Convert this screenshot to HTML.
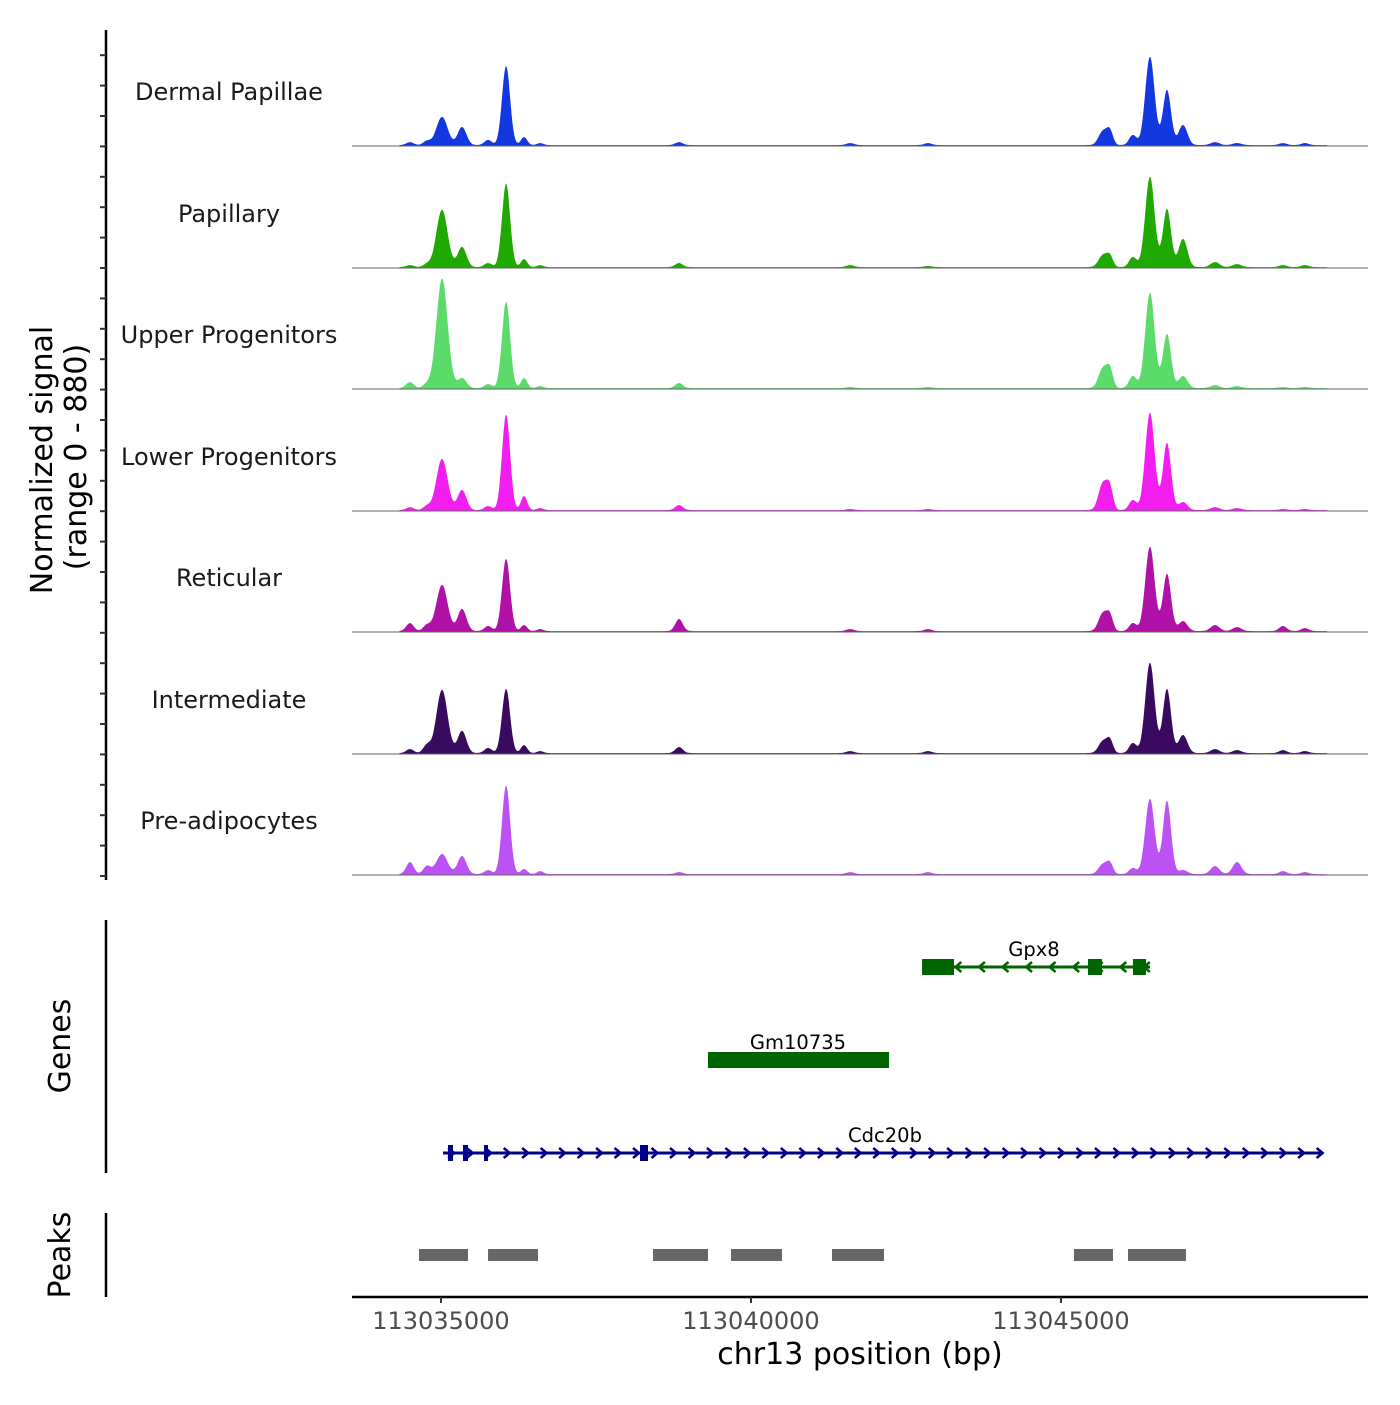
<!DOCTYPE html>
<html><head><meta charset="utf-8"><style>
body{margin:0;background:#fff;font-family:"Liberation Sans","DejaVu Sans",sans-serif}
svg text{font-family:"DejaVu Sans","Liberation Sans",sans-serif}
</style></head><body>
<svg id="chart" width="1400" height="1400" xmlns="http://www.w3.org/2000/svg"></svg>
<script>
const trackNames=["Dermal Papillae","Papillary","Upper Progenitors","Lower Progenitors","Reticular","Intermediate","Pre-adipocytes"];
const trackColors=["#1338df","#1eaa00","#5adb6a","#f21ef0","#b012a8","#3a0a60","#bd52f4"];
const peakPos=[113034500,113034775,113035017,113035340,113035760,113036050,113036340,113036600,113038840,113041600,113042855,113045678,113045790,113046160,113046435,113046710,113046968,113047485,113047840,113048580,113048935];
const peakWidth=[60,60,90,70,60,65,50,50,60,60,60,70,50,60,75,65,70,70,70,60,60];
const sigDP=[22,30,210,135,38,590,60,15,22,15,15,105,98,75,660,412,150,22,15,15,15];
const sigPap=[15,22,428,150,30,622,60,15,30,15,8,90,75,75,675,435,210,38,22,15,15];
const sigUP=[45,30,818,75,30,645,75,15,38,8,8,150,128,90,712,405,90,22,15,8,8];
const sigLP=[22,30,382,150,30,712,105,15,38,8,8,202,150,75,728,502,60,22,15,8,8];
const sigRet=[60,45,345,165,38,540,45,15,90,15,15,135,105,60,630,428,75,45,30,38,22];
const sigInt=[30,60,472,165,38,480,60,15,45,15,15,90,90,75,675,480,135,30,22,22,15];
const sigPre=[90,60,150,135,30,660,38,22,15,15,15,75,75,45,562,548,30,60,90,22,15];
const signals=[sigDP,sigPap,sigUP,sigLP,sigRet,sigInt,sigPre];
const xTicks=[113035000,113040000,113045000];
const peakStarts=[113034646,113035759,113038420,113039678,113041307,113045210,113046081];
const peakEnds=[113035436,113036565,113039307,113040500,113042146,113045839,113047016];

const NS="http://www.w3.org/2000/svg";
const svg=document.getElementById('chart');
function el(tag,attrs,parent){const e=document.createElementNS(NS,tag);for(const k in attrs)e.setAttribute(k,attrs[k]);(parent||svg).appendChild(e);return e;}
const X0=113033565, PX0=352, K=0.062;
const xs=bp=>PX0+(bp-X0)*K;
const baselines=[146,268,389,511,632,754,875];
const ys=(v,b)=>b-v/880*118;
const sigStart=113034330, sigEnd=113049300;

signals.forEach((s,ti)=>{
  const b=baselines[ti];
  let d="M"+xs(sigStart)+","+b;
  for(let bp=sigStart;bp<=sigEnd;bp+=16){
    let v=7;
    for(let i=0;i<peakPos.length;i++){const z=(bp-peakPos[i])/peakWidth[i];v+=s[i]*Math.exp(-0.5*z*z);}
    d+=" L"+xs(bp).toFixed(1)+","+ys(v,b).toFixed(1);
  }
  d+=" L"+xs(sigEnd)+","+b+" Z";
  const p=el('path',{d:d,fill:trackColors[ti]});
  
  
  const l=el('line',{x1:352,x2:1368,y1:b,y2:b,stroke:'#666','stroke-width':1});
  
  
  const t=el('text',{x:229,y:b-46,'text-anchor':'middle','font-size':24,fill:'#1a1a1a'});
  t.textContent=trackNames[ti];
  
  
});
const ya=el('line',{x1:106,x2:106,y1:30,y2:880,stroke:'#000','stroke-width':2.5});


for(let y=876;y>=30;y-=30.4){const tk=el('line',{x1:100,x2:106,y1:y,y2:y,stroke:'#333','stroke-width':2});

}
const yt=el('text',{transform:'translate(52,460) rotate(-90)','text-anchor':'middle','font-size':30,fill:'#000'});
yt.textContent='Normalized signal';


const yt2=el('text',{transform:'translate(86,457) rotate(-90)','text-anchor':'middle','font-size':30,fill:'#000'});
yt2.textContent='(range 0 - 880)';


const ga=el('line',{x1:106,x2:106,y1:920,y2:1173,stroke:'#000','stroke-width':2.5});


const gt=el('text',{transform:'translate(70,1046) rotate(-90)','text-anchor':'middle','font-size':30});
gt.textContent='Genes';


function gene(name,start,end,exons,y,color,dir,step,label,lx){
  const g=el('g',{});
  
  
  el('line',{x1:xs(start),x2:xs(end),y1:y,y2:y,stroke:color,'stroke-width':3},g);
  if(step){for(let bp=start+step/2;bp<end;bp+=step){const x=xs(bp);
    el('polyline',{points:(x-dir*4)+","+(y-5)+" "+(x+dir*2)+","+y+" "+(x-dir*4)+","+(y+5),fill:'none',stroke:color,'stroke-width':2.5},g);}}
  exons.forEach(e=>el('rect',{x:xs(e[0]),y:y-8,width:Math.max(2,xs(e[1])-xs(e[0])),height:16,fill:color},g));
  const t=el('text',{x:lx,y:y-11,'text-anchor':'middle','font-size':19.5},g);t.textContent=label;
}
gene('Gpx8',113042759,113046436,[[113042759,113043275],[113045436,113045662],[113046161,113046371]],967,'#006400',-1,380,'Gpx8',1034);
gene('Gm10735',113039307,113042226,[[113039307,113042226]],1060,'#006400',0,0,'Gm10735',798);
gene('Cdc20b',113035033,113049226,[[113035113,113035194],[113035355,113035436],[113035694,113035759],[113038210,113038339]],1153,'#00008b',1,298,'Cdc20b',885);
const pa=el('line',{x1:106,x2:106,y1:1213,y2:1297,stroke:'#000','stroke-width':2.5});


const pt=el('text',{transform:'translate(70,1255) rotate(-90)','text-anchor':'middle','font-size':30});
pt.textContent='Peaks';


peakStarts.forEach((s,i)=>{const r=el('rect',{x:xs(s),y:1249,width:xs(peakEnds[i])-xs(s),height:12,fill:'#666'});

});
const xa=el('line',{x1:352,x2:1368,y1:1297,y2:1297,stroke:'#000','stroke-width':2.5});


xTicks.forEach(v=>{const tk=el('line',{x1:xs(v),x2:xs(v),y1:1297,y2:1303,stroke:'#333','stroke-width':2});


const t=el('text',{x:xs(v),y:1329,'text-anchor':'middle','font-size':24,fill:'#4d4d4d'});t.textContent=v;

});
const xt=el('text',{x:860,y:1364,'text-anchor':'middle','font-size':30});
xt.textContent='chr13 position (bp)';


</script>
</body></html>
